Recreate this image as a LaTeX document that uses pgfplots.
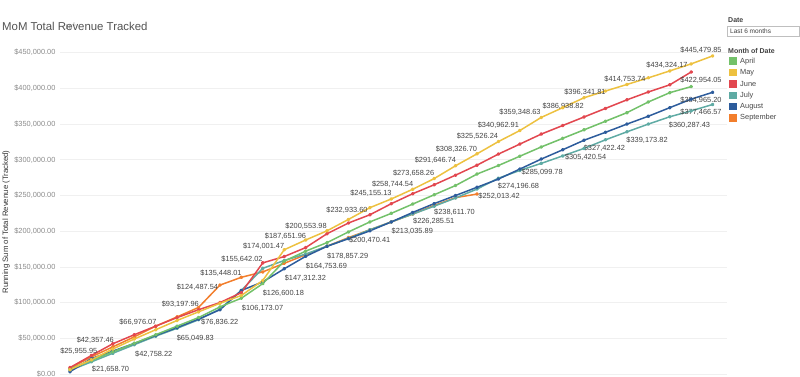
\documentclass[border=0pt]{standalone}
\usepackage{pgfplots}
\pgfplotsset{compat=1.18}
\usepackage{pgfplotstable}
\usepackage{fontspec}
\setmainfont{Liberation Sans}
\definecolor{cApr}{HTML}{73C16A}
\definecolor{cMay}{HTML}{EDC140}
\definecolor{cJun}{HTML}{E2474F}
\definecolor{cJul}{HTML}{5FABA4}
\definecolor{cAug}{HTML}{2D5C9C}
\definecolor{cSep}{HTML}{F27E2C}
\definecolor{ctick}{HTML}{8A8A8A}
\definecolor{clab}{HTML}{444444}
\tikzset{lab/.style={font=\fontsize{7.4}{8}\selectfont, text=clab, inner sep=0pt}}

\pgfplotstableread{
d v
1 7000
2 19000
3 31000
4 43000
5 55000
6 67000
7 79000
8 94000
9 106173.07
10 126600.18
11 158000
12 172000
13 184000
14 199000
15 213000
16 225000
17 238000
18 251000
19 264000
20 280000
21 292000
22 305000
23 318000
24 330000
25 342000
26 354000
27 366000
28 381000
29 394000
30 402500
}\april
\pgfplotstableread{
d v
1 6000
2 20000
3 35000
4 49000
5 62000
6 75000
7 87000
8 99000
9 110000
10 131000
11 174001.47
12 187651.96
13 200553.98
14 216500
15 232933.60
16 245155.13
17 258744.54
18 273658.26
19 291646.74
20 308326.70
21 325526.24
22 340962.91
23 359348.63
24 373000
25 386938.82
26 396341.81
27 405500
28 414753.74
29 424500
30 434324.17
31 445479.85
}\may
\pgfplotstableread{
d v
1 9000
2 25955.95
3 42357.46
4 55000
5 67000
6 79000
7 90000
8 100000
9 114000
10 155642.02
11 164500
12 177000
13 196500
14 211500
15 223000
16 238500
17 252500
18 265000
19 278500
20 292500
21 308000
22 322000
23 336000
24 348000
25 360000
26 372000
27 384000
28 395000
29 405000
30 422954.05
}\june
\pgfplotstableread{
d v
1 5000
2 17000
3 29000
4 41000
5 53000
6 64000
7 76000
8 91000
9 117000
10 148000
11 159000
12 168000
13 179000
14 190000
15 202000
16 213000
17 224000
18 235000
19 246500
20 259000
21 274196.68
22 285099.78
23 295000
24 305420.54
25 316000
26 328000
27 339173.82
28 350000
29 360287.43
30 368500
31 377466.57
}\july
\pgfplotstableread{
d v
1 3200
2 21658.70
3 32000
4 42758.22
5 54000
6 65049.83
7 76836.22
8 90000
9 117000
10 129000
11 147312.32
12 164753.69
13 178857.29
14 189500
15 200470.41
16 213035.89
17 226285.51
18 238611.70
19 250000
20 261500
21 273000
22 287000
23 301000
24 314000
25 327422.42
26 338500
27 350000
28 361000
29 373000
30 384965.20
31 394500
}\august
\pgfplotstableread{
d v
1 8000
2 24000
3 38000
4 52000
5 66976.07
6 80000
7 93197.96
8 124487.54
9 135448.01
10 143000
11 155000
12 167000
13 179000
14 191000
15 202000
16 213000
17 224000
18 236000
19 247000
20 252013.42
}\september

\begin{document}
\begin{tikzpicture}[x=1pt,y=1pt]
\useasboundingbox (-60,0) rectangle (740,377);
\begin{axis}[
  scale only axis,
  width=667pt, height=337pt,
  xmin=0.5331, xmax=31.672, ymin=-4200, ymax=467800,
  axis line style={draw=none},
  xtick=\empty,
  ytick={0,50000,100000,150000,200000,250000,300000,350000,400000,450000},
  yticklabels={{\$0.00},{\$50,000.00},{\$100,000.00},{\$150,000.00},{\$200,000.00},{\$250,000.00},{\$300,000.00},{\$350,000.00},{\$400,000.00},{\$450,000.00}},
  yticklabel style={font=\fontsize{7.4}{8}\selectfont, text=ctick, xshift=-1pt},
  major tick length=0pt,
  ymajorgrids, grid style={color=black!6, line width=0.6pt},
  clip=false,
  every axis plot/.append style={line width=1.5pt, mark=*, mark size=1.1pt, line join=round},
]
\addplot[color=cSep] table[x=d,y=v] {\september};
\addplot[color=cJul] table[x=d,y=v] {\july};
\addplot[color=cAug] table[x=d,y=v] {\august};
\addplot[color=cApr] table[x=d,y=v] {\april};
\addplot[color=cJun] table[x=d,y=v] {\june};
\addplot[color=cMay] table[x=d,y=v] {\may};

\node[lab] at (axis cs:30.46,452800) {\$445,479.85};
\node[lab] at (axis cs:28.87,432800) {\$434,324.17};
\node[lab] at (axis cs:30.46,410800) {\$422,954.05};
\node[lab] at (axis cs:26.91,413200) {\$414,753.74};
\node[lab] at (axis cs:25.04,394600) {\$396,341.81};
\node[lab] at (axis cs:24.02,375400) {\$386,938.82};
\node[lab] at (axis cs:30.46,383800) {\$384,965.20};
\node[lab] at (axis cs:30.46,366000) {\$377,466.57};
\node[lab] at (axis cs:29.92,348700) {\$360,287.43};
\node[lab] at (axis cs:22.01,366500) {\$359,348.63};
\node[lab] at (axis cs:21.00,348800) {\$340,962.91};
\node[lab] at (axis cs:27.94,326800) {\$339,173.82};
\node[lab] at (axis cs:25.95,316100) {\$327,422.42};
\node[lab] at (axis cs:20.02,332400) {\$325,526.24};
\node[lab] at (axis cs:19.04,315100) {\$308,326.70};
\node[lab] at (axis cs:25.07,303000) {\$305,420.54};
\node[lab] at (axis cs:18.06,298800) {\$291,646.74};
\node[lab] at (axis cs:23.04,281900) {\$285,099.78};
\node[lab] at (axis cs:21.94,262300) {\$274,196.68};
\node[lab] at (axis cs:17.04,281100) {\$273,658.26};
\node[lab] at (axis cs:16.06,265700) {\$258,744.54};
\node[lab] at (axis cs:21.03,249300) {\$252,013.42};
\node[lab] at (axis cs:15.05,253100) {\$245,155.13};
\node[lab] at (axis cs:18.95,225900) {\$238,611.70};
\node[lab] at (axis cs:13.93,229700) {\$232,933.60};
\node[lab] at (axis cs:17.98,213300) {\$226,285.51};
\node[lab] at (axis cs:16.98,199300) {\$213,035.89};
\node[lab] at (axis cs:12.02,207300) {\$200,553.98};
\node[lab] at (axis cs:14.99,187700) {\$200,470.41};
\node[lab] at (axis cs:11.06,193300) {\$187,651.96};
\node[lab] at (axis cs:13.96,164300) {\$178,857.29};
\node[lab] at (axis cs:10.04,179300) {\$174,001.47};
\node[lab] at (axis cs:12.97,150300) {\$164,753.69};
\node[lab] at (axis cs:9.03,160600) {\$155,642.02};
\node[lab] at (axis cs:11.99,133500) {\$147,312.32};
\node[lab] at (axis cs:8.05,141000) {\$135,448.01};
\node[lab] at (axis cs:10.96,113000) {\$126,600.18};
\node[lab] at (axis cs:6.95,121400) {\$124,487.54};
\node[lab] at (axis cs:9.99,92000) {\$106,173.07};
\node[lab] at (axis cs:6.15,98000) {\$93,197.96};
\node[lab] at (axis cs:7.99,72400) {\$76,836.22};
\node[lab] at (axis cs:4.17,72400) {\$66,976.07};
\node[lab] at (axis cs:6.85,50000) {\$65,049.83};
\node[lab] at (axis cs:2.18,46600) {\$42,357.46};
\node[lab] at (axis cs:4.91,28000) {\$42,758.22};
\node[lab] at (axis cs:1.41,31200) {\$25,955.95};
\node[lab] at (axis cs:2.89,7000) {\$21,658.70};
\end{axis}

% title
\node[anchor=west, font=\fontsize{11.4}{13}\selectfont, text=black!68, inner sep=0pt] at (-58,351) {MoM Total Revenue Tracked};
% y label
\node[rotate=90, font=\fontsize{7.8}{9}\selectfont, text=black!80, inner sep=0pt] at (-54,155) {Running Sum of Total Revenue (Tracked)};
% legend
\node[anchor=west, font=\bfseries\fontsize{7}{8}\selectfont, text=black!75, inner sep=0pt] at (668,357) {Date};
\draw[black!25, line width=0.5pt, fill=white] (667.5,341) rectangle (739.6,350.6);
\node[anchor=west, font=\fontsize{6.5}{8}\selectfont, text=black!75, inner sep=0pt] at (670,345.8) {Last 6 months};
\node[anchor=west, font=\bfseries\fontsize{7}{8}\selectfont, text=black!75, inner sep=0pt] at (668,326.3) {Month of Date};
\foreach \c/\t [count=\i from 0] in {cApr/April,cMay/May,cJun/June,cJul/July,cAug/August,cSep/September}{
  \fill[\c] (669,315.7-11.35*\i-3.8) rectangle (676.8,315.7-11.35*\i+3.8);
  \node[anchor=west, font=\fontsize{7.4}{8}\selectfont, text=black!72, inner sep=0pt] at (680,315.7-11.35*\i) {\t};
}
\end{tikzpicture}
\end{document}
